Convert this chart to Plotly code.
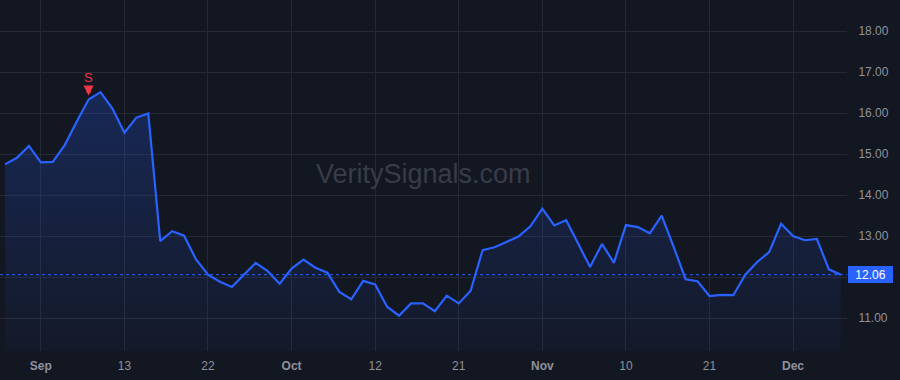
import pandas as pd
import plotly.graph_objects as go

# ---- data ----
dates = [d.strftime("%Y-%m-%d") for d in pd.bdate_range("2023-08-29", periods=71)]
values = [
    14.75, 14.91, 15.20, 14.80, 14.81, 15.22, 15.79, 16.33, 16.51, 16.11,
    15.52, 15.89, 15.99, 12.88, 13.12, 13.01, 12.43, 12.06, 11.89, 11.76,
    12.06, 12.35, 12.15, 11.84, 12.21, 12.43, 12.23, 12.11, 11.64, 11.46,
    11.91, 11.82, 11.28, 11.06, 11.36, 11.36, 11.17, 11.55, 11.36, 11.67,
    12.66, 12.73, 12.86, 12.99, 13.24, 13.67, 13.26, 13.39, 12.82, 12.25,
    12.81, 12.35, 13.27, 13.22, 13.07, 13.50, 12.74, 11.95, 11.90, 11.54,
    11.57, 11.56, 12.06, 12.37, 12.61, 13.30, 13.00, 12.90, 12.93, 12.19,
    12.06,
]
tick_index = [3, 10, 17, 24, 31, 38, 45, 52, 59, 66]
tick_labels = ["<b>Sep</b>", "13", "22", "<b>Oct</b>", "12", "21",
               "<b>Nov</b>", "10", "21", "<b>Dec</b>"]
y_ticks = [11, 12, 13, 14, 15, 16, 17, 18]
signal_index = 7
signal_label = "S"
watermark = "VeritySignals.com"

# ---- style ----
BG = "#131722"
GRID = "#252935"
BLUE = "#2962FF"
RED = "#F23645"
TXT = "#8f929b"
FONT = "Liberation Sans, Arial, sans-serif"

last = values[-1]
# the last-price label covers the nearby axis label, as in the reference
y_ticktext = ["" if abs(v - last) < 0.3 else f"{v:.2f}" for v in y_ticks]

fig = go.Figure()
fig.add_trace(go.Scatter(
    x=dates, y=values, mode="lines",
    line=dict(color=BLUE, width=2.2),
    fill="tozeroy",
    fillgradient=dict(type="vertical", start=10.2, stop=16.6,
                      colorscale=[[0, "rgba(41,98,255,0.03)"],
                                  [1, "rgba(41,98,255,0.24)"]]),
    hoverinfo="skip", showlegend=False,
))

fig.add_shape(type="line", xref="paper", x0=0, x1=1, yref="y", y0=last, y1=last,
              line=dict(color=BLUE, width=1, dash="dot"))

fig.add_annotation(xref="paper", yref="y", x=1, y=last, xanchor="left",
                   yanchor="middle", xshift=1, text=f"{last:.2f}",
                   showarrow=False, bgcolor=BLUE, borderwidth=0, borderpad=2,
                   width=41, height=13,
                   font=dict(color="white", size=12, family=FONT))

# signal arrow (no text) + signal letter
fig.add_annotation(x=dates[signal_index], y=values[signal_index], text="",
                   showarrow=True, ax=0, ay=-15, arrowcolor=RED, arrowwidth=4,
                   arrowhead=2, arrowsize=0.5, standoff=4)
fig.add_annotation(x=dates[signal_index], y=values[signal_index], text=signal_label,
                   showarrow=False, yshift=22,
                   font=dict(color=RED, size=13, family=FONT))

fig.add_annotation(xref="paper", yref="paper", x=0.5, y=0.5, yshift=2,
                   text=watermark, showarrow=False,
                   font=dict(color="#383c48", size=27, family=FONT))

fig.update_layout(
    width=900, height=380,
    margin=dict(l=0, r=53, t=0, b=29),
    paper_bgcolor=BG, plot_bgcolor=BG,
    font=dict(family=FONT, color=TXT, size=12),
    xaxis=dict(type="category", range=[-0.42, 70.52],
               tickmode="array",
               tickvals=[dates[i] for i in tick_index], ticktext=tick_labels,
               showgrid=True, gridcolor=GRID, gridwidth=1,
               zeroline=False, showline=False,
               ticks="outside", ticklen=4, tickcolor=BG,
               tickfont=dict(color=TXT, size=12)),
    yaxis=dict(side="right", range=[10.2, 18.756],
               tickmode="array", tickvals=y_ticks, ticktext=y_ticktext,
               showgrid=True, gridcolor=GRID, gridwidth=1,
               zeroline=False, showline=False,
               ticks="outside", ticklen=8, tickcolor=BG,
               tickfont=dict(color=TXT, size=12)),
)

fig.write_html("out.html")
